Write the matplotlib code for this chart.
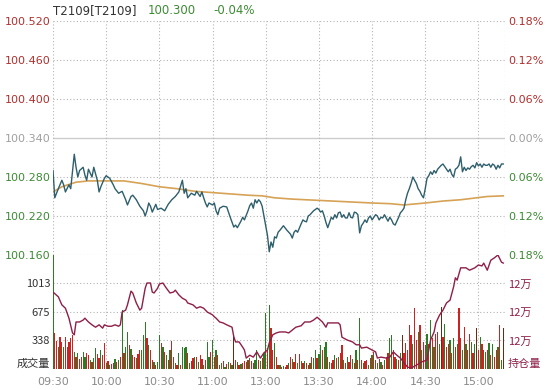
import matplotlib
matplotlib.use('Agg')
import matplotlib.pyplot as plt

plt.rcParams['font.family'] = ['DejaVu Sans', 'Noto Sans CJK SC']

# reference data (minute index from 09:30, lunch break removed)
prev_close = 100.340
last_price = 100.300
title_code = 'T2109[T2109]'

price_idx = [0, 1, 3, 5, 6, 7, 9, 10, 12, 13, 14, 15, 17, 18, 19, 20, 22, 23, 25, 26,
             27, 29, 30, 32, 34, 35, 37, 39, 41, 42, 44, 45, 47, 49, 51, 52, 53, 54, 55, 56,
             58, 59, 61, 63, 65, 67, 69, 71, 73, 74, 75, 76, 78, 80, 81, 83, 84, 85, 86, 87,
             88, 90, 91, 92, 93, 94, 96, 98, 100, 102, 103, 104, 106, 107, 108, 110, 111, 112, 113, 114,
             115, 116, 117, 118, 119, 120, 121, 122, 123, 124, 125, 126, 127, 128, 130, 132, 134, 135, 136, 137,
             138, 140, 141, 142, 143, 144, 145, 147, 149, 150, 151, 152, 153, 154, 155, 156, 157, 158, 159, 160,
             161, 162, 163, 164, 165, 166, 167, 168, 169, 170, 171, 172, 173, 174, 175, 176, 177, 178, 179, 180,
             181, 182, 183, 184, 185, 186, 187, 188, 189, 190, 191, 192, 193, 194, 195, 196, 197, 198, 199, 200,
             201, 202, 203, 204, 205, 206, 207, 208, 209, 210, 211, 212, 213, 214, 215, 216, 217, 218, 219, 220,
             221, 222, 223, 224, 225, 226, 227, 228, 229, 230, 231, 232, 233, 234, 235, 236, 237, 238, 239, 240,
             241, 242, 243, 244, 245, 246, 247, 248, 249, 250, 251, 252, 253, 254]
price_val = [100.290, 100.248, 100.262, 100.275, 100.268, 100.257, 100.268, 100.262, 100.315, 100.295,
             100.280, 100.290, 100.295, 100.283, 100.275, 100.292, 100.280, 100.295, 100.275, 100.257,
             100.265, 100.278, 100.282, 100.278, 100.268, 100.262, 100.255, 100.258, 100.245, 100.237,
             100.250, 100.252, 100.245, 100.235, 100.228, 100.220, 100.228, 100.240, 100.235, 100.226,
             100.238, 100.230, 100.232, 100.228, 100.238, 100.245, 100.250, 100.257, 100.275, 100.255,
             100.262, 100.248, 100.255, 100.252, 100.258, 100.250, 100.257, 100.248, 100.240, 100.234,
             100.240, 100.237, 100.240, 100.228, 100.222, 100.232, 100.235, 100.234, 100.218, 100.203,
             100.206, 100.202, 100.212, 100.218, 100.214, 100.228, 100.236, 100.240, 100.232, 100.245,
             100.240, 100.245, 100.242, 100.235, 100.220, 100.205, 100.190, 100.165, 100.180, 100.172,
             100.188, 100.186, 100.195, 100.198, 100.205, 100.198, 100.192, 100.186, 100.195, 100.198,
             100.195, 100.208, 100.214, 100.212, 100.211, 100.220, 100.222, 100.228, 100.232, 100.230,
             100.226, 100.228, 100.220, 100.210, 100.202, 100.210, 100.218, 100.215, 100.222, 100.217,
             100.225, 100.226, 100.218, 100.222, 100.217, 100.217, 100.225, 100.218, 100.217, 100.226,
             100.225, 100.222, 100.194, 100.205, 100.209, 100.214, 100.210, 100.217, 100.220, 100.214,
             100.218, 100.222, 100.220, 100.214, 100.218, 100.217, 100.222, 100.217, 100.212, 100.218,
             100.214, 100.208, 100.206, 100.212, 100.218, 100.225, 100.228, 100.232, 100.245, 100.255,
             100.262, 100.270, 100.280, 100.275, 100.270, 100.262, 100.258, 100.252, 100.248, 100.262,
             100.278, 100.282, 100.288, 100.284, 100.290, 100.286, 100.292, 100.295, 100.298, 100.300,
             100.296, 100.292, 100.288, 100.292, 100.284, 100.280, 100.292, 100.294, 100.298, 100.311,
             100.288, 100.295, 100.290, 100.294, 100.292, 100.296, 100.298, 100.294, 100.302, 100.297,
             100.300, 100.295, 100.300, 100.298, 100.298, 100.300, 100.295, 100.300, 100.298, 100.292,
             100.298, 100.294, 100.300, 100.300]

avg_idx = [0, 5, 13, 20, 40, 50, 60, 70, 80, 90, 100, 110, 118, 125, 135, 150, 165, 180, 190, 198,
           210, 220, 230, 245, 254]
avg_val = [100.257, 100.265, 100.272, 100.274, 100.274, 100.270, 100.265, 100.262, 100.258, 100.256,
           100.254, 100.252, 100.251, 100.248, 100.246, 100.244, 100.242, 100.240, 100.239, 100.237,
           100.240, 100.243, 100.245, 100.250, 100.251]

volume = [1350, 430, 330, 265, 375, 325, 265, 375, 265, 325,
          363, 400, 205, 146, 185, 120, 146, 205, 146, 185,
          160, 107, 87, 130, 245, 180, 126, 225, 160, 312,
          67, 90, 47, 60, 67, 120, 87, 110, 146, 700,
          185, 265, 442, 284, 233, 166, 146, 126, 180, 225,
          225, 400, 560, 363, 284, 225, 107, 80, 47, 87,
          400, 304, 265, 200, 166, 107, 225, 335, 140, 67,
          47, 185, 47, 256, 245, 256, 185, 67, 100, 126,
          146, 146, 87, 166, 120, 47, 107, 324, 146, 200,
          343, 146, 225, 166, 47, 67, 90, 28, 60, 87,
          70, 47, 400, 107, 80, 47, 60, 67, 100, 87,
          110, 126, 90, 67, 110, 225, 107, 90, 126, 185,
          660, 245, 758, 481, 225, 304, 140, 47, 47, 28,
          40, 28, 47, 67, 146, 120, 87, 178, 67, 178,
          100, 67, 90, 75, 47, 67, 146, 126, 225, 126,
          180, 284, 225, 265, 324, 146, 87, 67, 107, 166,
          126, 140, 185, 284, 107, 67, 146, 87, 166, 120,
          67, 225, 107, 600, 107, 67, 90, 107, 47, 126,
          160, 205, 107, 67, 120, 87, 47, 107, 140, 185,
          363, 400, 225, 146, 120, 107, 185, 400, 185, 304,
          225, 520, 400, 300, 718, 343, 442, 520, 225, 324,
          280, 420, 300, 580, 363, 265, 420, 442, 300, 730,
          383, 533, 265, 300, 343, 185, 363, 265, 300, 718,
          363, 225, 500, 300, 225, 420, 324, 185, 300, 481,
          225, 383, 300, 225, 205, 225, 304, 166, 300, 146,
          225, 265, 520, 107, 481]
vol_side = ('grrgrrgrrr' 'rrgrgrrggr' 'rgrggrrgrr' 'grgrrgrgrg' 'rggrgrrgrr'
            'gggrgrrgrg' 'grgrgrgrrg' 'rgrgggrgrr' 'grgrrgrggr' 'grgrrgrgrg'
            'rgdrgrgrrg' 'rgrrggrgrg' 'grgrrgrrgr' 'grrgrgrrgr' 'grgrrgrggr'
            'ggrggrgrrg' 'rgrrgrgrrg' 'rgrgrgrrgr' 'grrgrgrgrr' 'ggrrgrgdrr'
            'rrrgrrgrgr' 'rgrgrgrrgd' 'rgrrgrgrgr' 'rgrgrrgrgd' 'rgrrgrgrgr'
            'rgrgd')

oi_idx = [0, 3, 5, 7, 9, 11, 12, 13, 15, 17, 18, 20, 22, 24, 26, 28, 29, 31, 33, 35,
          37, 38, 39, 41, 42, 44, 45, 47, 49, 50, 52, 53, 55, 56, 57, 59, 60, 62, 64, 66,
          68, 69, 71, 73, 75, 76, 79, 81, 83, 85, 87, 90, 91, 92, 94, 96, 98, 101, 102, 103,
          105, 107, 108, 109, 111, 113, 115, 117, 119, 121, 122, 124, 126, 128, 131, 133, 137, 140, 142, 145,
          147, 149, 152, 154, 155, 158, 161, 162, 163, 166, 169, 171, 173, 174, 177, 180, 182, 183, 185, 188,
          190, 192, 194, 196, 198, 200, 202, 203, 205, 208, 211, 213, 215, 216, 218, 220, 222, 224, 226, 227,
          228, 230, 233, 235, 238, 240, 242, 243, 245, 247, 249, 251, 253, 254]
oi_val = [121210, 121160, 121075, 121040, 120935, 120780, 120760, 120895, 120895, 120915,
          120935, 120895, 120865, 120840, 120865, 120830, 120865, 120850, 120850, 120865,
          120850, 120865, 121000, 121020, 121075, 121220, 121200, 121095, 121020, 121040,
          121250, 121305, 121305, 121210, 121200, 121250, 121295, 121305, 121250, 121200,
          121210, 121230, 121180, 121145, 121125, 121095, 121075, 121040, 121055, 121040,
          121000, 120970, 120950, 120935, 120895, 120885, 120865, 120840, 120740, 120685,
          120685, 120630, 120600, 120515, 120545, 120525, 120580, 120515, 120570, 120600,
          120675, 120760, 120780, 120790, 120790, 120780, 120840, 120855, 120895, 120895,
          120915, 120945, 120895, 120840, 120885, 120885, 120885, 120865, 120735, 120705,
          120685, 120655, 120655, 120620, 120630, 120600, 120580, 120515, 120525, 120515,
          120525, 120580, 120545, 120515, 120465, 120420, 120410, 120420, 120440, 120475,
          120495, 120705, 120790, 120885, 120965, 121020, 121095, 121125, 121265, 121360,
          121335, 121465, 121465, 121440, 121465, 121495, 121485, 121515, 121440, 121545,
          121570, 121600, 121525, 121515]

price_ticks = [100.160, 100.220, 100.280, 100.340, 100.400, 100.460, 100.520]
vol_ticks = [0, 338, 675, 1013]
oi_ticks = [120400, 120700, 121000, 121300]
time_ticks = [0, 30, 60, 90, 120, 150, 180, 210, 240]
time_labels = ['09:30', '10:00', '10:30', '11:00', '13:00', '13:30', '14:00', '14:30', '15:00']

RED = '#b0302f'
GREEN = '#3d8a35'
GRAY = '#a0a0a0'
GRID = '#b4b4b4'
bar_colors = {'r': '#cc2222', 'g': '#2a7d22', 'd': '#6a2a12'}

fig = plt.figure(figsize=(5.48, 3.90), dpi=100)
ax = fig.add_axes([53 / 548, 1 - 255 / 390, 452 / 548, 234 / 390])
axv = fig.add_axes([53 / 548, 1 - 369 / 390, 452 / 548, 114 / 390])

# price panel
ax.set_xlim(0, 255)
ax.set_ylim(price_ticks[0], price_ticks[-1])
for p in price_ticks:
    if abs(p - prev_close) < 1e-6:
        ax.axhline(p, color='#cccccc', lw=1.0, zorder=1)
    else:
        ax.axhline(p, color=GRID, lw=0.8, ls=(0, (1, 2)), zorder=1)
for t in time_ticks + [255]:
    ax.axvline(t, color=GRID, lw=0.8, ls=(0, (1, 2)), zorder=1)
ax.plot(avg_idx, avg_val, color='#d6a256', lw=1.2, zorder=3)
ax.plot(price_idx, price_val, color='#2e5f6c', lw=1.0, zorder=4)
for s in ax.spines.values():
    s.set_visible(False)
ax.set_xticks([])
ax.set_yticks(price_ticks)
ax.set_yticklabels(['%.3f' % p for p in price_ticks], fontsize=8)
ax.tick_params(axis='y', length=0, pad=2)
for lab, p in zip(ax.get_yticklabels(), price_ticks):
    lab.set_color(RED if p > prev_close + 1e-6 else (GREEN if p < prev_close - 1e-6 else GRAY))

axr = ax.twinx()
axr.set_ylim(price_ticks[0], price_ticks[-1])
axr.set_yticks(price_ticks)
axr.set_yticklabels(['%.2f%%' % abs((p - prev_close) / prev_close * 100) for p in price_ticks], fontsize=8)
axr.tick_params(axis='y', length=0, pad=2)
for lab, p in zip(axr.get_yticklabels(), price_ticks):
    lab.set_color(RED if p > prev_close + 1e-6 else (GREEN if p < prev_close - 1e-6 else GRAY))
for s in axr.spines.values():
    s.set_visible(False)

# volume panel
axv.set_xlim(0, 255)
axv.set_ylim(0, 1350)
for v in vol_ticks[1:]:
    axv.axhline(v, color=GRID, lw=0.8, ls=(0, (1, 2)), zorder=1)
for t in time_ticks + [255]:
    axv.axvline(t, color=GRID, lw=0.8, ls=(0, (1, 2)), zorder=1)
axv.bar(range(len(volume)), volume, width=0.7,
        color=[bar_colors[c] for c in vol_side], zorder=2)
for s in axv.spines.values():
    s.set_visible(False)
axv.set_xticks(time_ticks)
axv.set_xticklabels(time_labels, fontsize=8, color='#8a8a8a')
axv.tick_params(axis='x', length=0, pad=6)
axv.set_yticks(vol_ticks)
axv.set_yticklabels(['成交量'] + [str(v) for v in vol_ticks[1:]], fontsize=8, color='#333333',
                    family=['Noto Sans CJK SC', 'DejaVu Sans'])
axv.tick_params(axis='y', length=0, pad=2)
axv.get_yticklabels()[0].set_va('bottom')

axo = axv.twinx()
axo.set_ylim(oi_ticks[0], 121600)
axo.plot(oi_idx, oi_val, color='#8e1f48', lw=1.0, zorder=5)
axo.set_yticks(oi_ticks)
axo.set_yticklabels(['持仓量'] + ['%d万' % (v // 10000) for v in oi_ticks[1:]], fontsize=8,
                    color='#8e1f48', family=['Noto Sans CJK SC', 'DejaVu Sans'])
axo.tick_params(axis='y', length=0, pad=2)
axo.get_yticklabels()[0].set_va('bottom')
for s in axo.spines.values():
    s.set_visible(False)

# header
pct = (last_price - prev_close) / prev_close * 100
fig.text(53 / 548, 1 - 11 / 390, title_code, fontsize=8.5, color='#333333', va='center')
fig.text(148 / 548, 1 - 11 / 390, '%.3f' % last_price, fontsize=8.5, color=GREEN, va='center')
fig.text(213 / 548, 1 - 11 / 390, '%.2f%%' % pct, fontsize=8.5, color=GREEN, va='center')

fig.savefig('out.png', dpi=100, facecolor='white')
